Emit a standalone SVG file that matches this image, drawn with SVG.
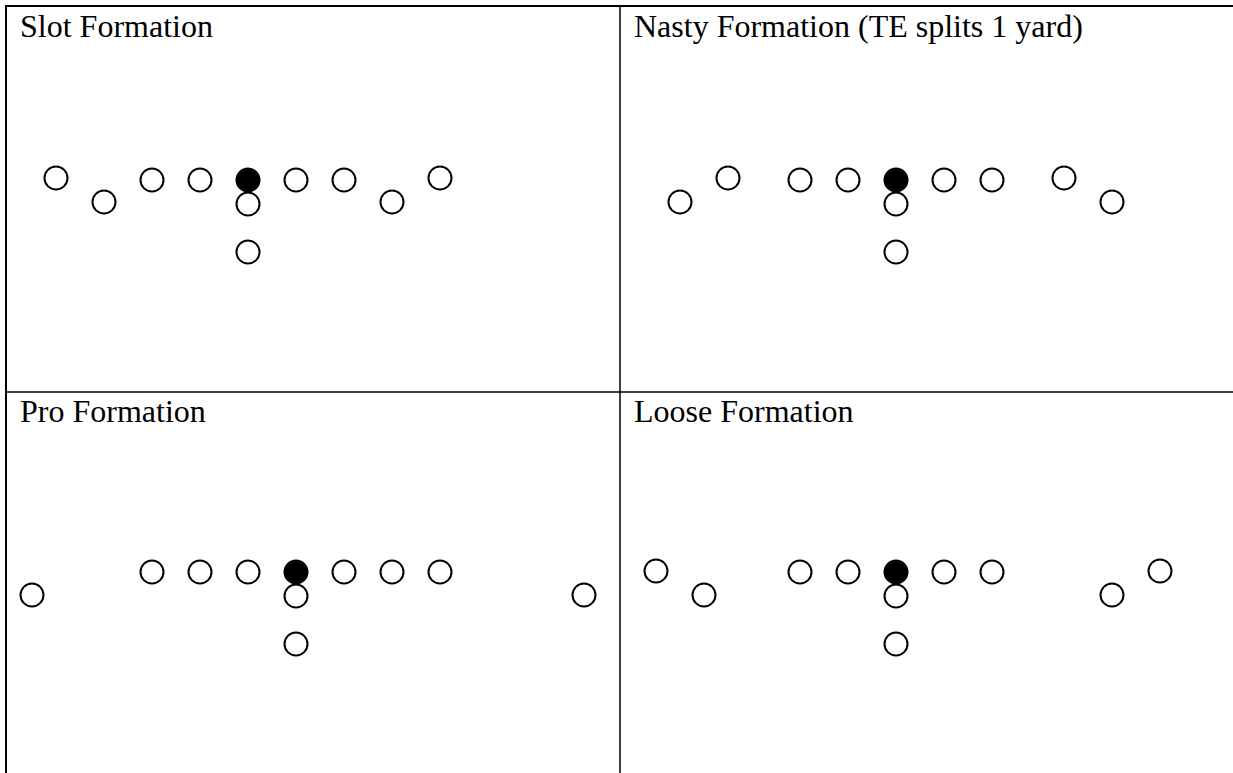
<svg xmlns="http://www.w3.org/2000/svg" width="1233" height="773" viewBox="0 0 1233 773">
<style>
.t{font-family:"Liberation Serif","Times New Roman",serif;font-size:32px;fill:#000}
.p{fill:#fff;stroke:#000;stroke-width:2}
.f{fill:#000;stroke:#000;stroke-width:2}
.b{stroke:#000;fill:none}
</style>
<rect width="1233" height="773" fill="#fff"/>
<g id="grid">
<line class="b" x1="5" y1="6" x2="1233" y2="6" stroke-width="2"/>
<line class="b" x1="6" y1="5" x2="6" y2="773" stroke-width="2"/>
<line class="b" x1="620" y1="6" x2="620" y2="773" stroke-width="1.5"/>
<line class="b" x1="6" y1="392" x2="1233" y2="392" stroke-width="1.5"/>
</g>
<g id="slot">
<text class="t" x="20" y="37">Slot Formation</text>
<circle class="p" cx="56" cy="178" r="11.5"/>
<circle class="p" cx="104" cy="202" r="11.5"/>
<circle class="p" cx="152" cy="180" r="11.5"/>
<circle class="p" cx="200" cy="180" r="11.5"/>
<circle class="p" cx="296" cy="180" r="11.5"/>
<circle class="p" cx="344" cy="180" r="11.5"/>
<circle class="p" cx="392" cy="202" r="11.5"/>
<circle class="p" cx="440" cy="178" r="11.5"/>
<circle class="p" cx="248" cy="204" r="11.5"/>
<circle class="p" cx="248" cy="252" r="11.5"/>
<circle class="f" cx="248" cy="180" r="11.5"/>
</g>
<g id="nasty">
<text class="t" x="634" y="37">Nasty Formation (TE splits 1 yard)</text>
<circle class="p" cx="680" cy="202" r="11.5"/>
<circle class="p" cx="728" cy="178" r="11.5"/>
<circle class="p" cx="800" cy="180" r="11.5"/>
<circle class="p" cx="848" cy="180" r="11.5"/>
<circle class="p" cx="944" cy="180" r="11.5"/>
<circle class="p" cx="992" cy="180" r="11.5"/>
<circle class="p" cx="1064" cy="178" r="11.5"/>
<circle class="p" cx="1112" cy="202" r="11.5"/>
<circle class="p" cx="896" cy="204" r="11.5"/>
<circle class="p" cx="896" cy="252" r="11.5"/>
<circle class="f" cx="896" cy="180" r="11.5"/>
</g>
<g id="pro">
<text class="t" x="20" y="422">Pro Formation</text>
<circle class="p" cx="32" cy="595" r="11.5"/>
<circle class="p" cx="152" cy="572" r="11.5"/>
<circle class="p" cx="200" cy="572" r="11.5"/>
<circle class="p" cx="248" cy="572" r="11.5"/>
<circle class="p" cx="344" cy="572" r="11.5"/>
<circle class="p" cx="392" cy="572" r="11.5"/>
<circle class="p" cx="440" cy="572" r="11.5"/>
<circle class="p" cx="584" cy="595" r="11.5"/>
<circle class="p" cx="296" cy="596" r="11.5"/>
<circle class="p" cx="296" cy="644" r="11.5"/>
<circle class="f" cx="296" cy="572" r="11.5"/>
</g>
<g id="loose">
<text class="t" x="634" y="422">Loose Formation</text>
<circle class="p" cx="656" cy="571" r="11.5"/>
<circle class="p" cx="704" cy="595" r="11.5"/>
<circle class="p" cx="800" cy="572" r="11.5"/>
<circle class="p" cx="848" cy="572" r="11.5"/>
<circle class="p" cx="944" cy="572" r="11.5"/>
<circle class="p" cx="992" cy="572" r="11.5"/>
<circle class="p" cx="1112" cy="595" r="11.5"/>
<circle class="p" cx="1160" cy="571" r="11.5"/>
<circle class="p" cx="896" cy="596" r="11.5"/>
<circle class="p" cx="896" cy="644" r="11.5"/>
<circle class="f" cx="896" cy="572" r="11.5"/>
</g>
</svg>
